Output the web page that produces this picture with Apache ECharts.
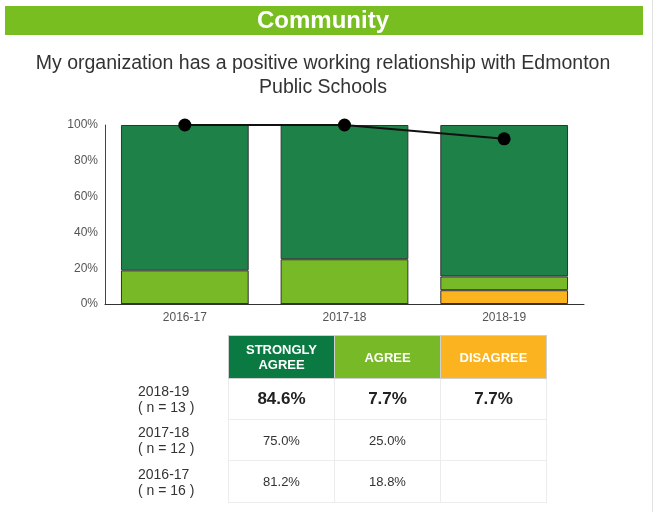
<!DOCTYPE html>
<html>
<head>
<meta charset="utf-8">
<script src="https://cdn.jsdelivr.net/npm/echarts@6/dist/echarts.min.js"></script>
<style>
  html, body { margin: 0; padding: 0; background: #fff; }
  #wrap { position: relative; width: 654px; height: 512px; overflow: hidden; font-family: "Liberation Sans", Arial, sans-serif; }
  #chart { position: absolute; left: 0; top: 0; width: 654px; height: 512px; }
  #rborder { position: absolute; left: 652px; top: 0; width: 1px; height: 512px; background: #e2e2e2; }
  #tbl { position: absolute; left: 130px; top: 335px; border-collapse: collapse; }
  #tbl td, #tbl th { padding: 0; text-align: center; color: #222; }
  #tbl th.h { width: 105px; height: 42px; color: #fff; font-size: 13px; font-weight: bold; line-height: 15px; border: 1px solid #cfcfcf; }
  #tbl td.lab { width: 90px; text-align: left; padding-left: 8px; font-size: 14px; line-height: 16px; color: #333; border: none; }
  #tbl td.v { border: 1px solid #ececec; font-size: 13px; color: #333; }
  #tbl tr.r1 td.v { font-size: 17px; font-weight: bold; color: #222; }
  #tbl th.blank { border: none; background: transparent; }
</style>
</head>
<body>
<div id="wrap">
  <div id="chart"></div>
  <div id="rborder"></div>
  <table id="tbl"></table>
</div>
<script>
// ---- data ----
var categories = ['2016-17', '2017-18', '2018-19'];
var stronglyAgree = [81.2, 75.0, 84.6];
var agree = [18.8, 25.0, 7.7];
var disagree = [0, 0, 7.7];
var positive = [100, 100, 92.3];
var yTicks = [0, 20, 40, 60, 80, 100];
var tableRows = ['2018-19', '2017-18', '2016-17'];
var tableN = [13, 12, 16];
var tableStrongly = ['84.6%', '75.0%', '81.2%'];
var tableAgree = ['7.7%', '25.0%', '18.8%'];
var tableDisagree = ['7.7%', '', ''];
var headers = ['STRONGLY<br>AGREE', 'AGREE', 'DISAGREE'];

var cDark = '#1E8248', cLight = '#78B928', cOrange = '#FBB41F';
var headerColors = ['#0A7A42', cLight, cOrange];

var chart = echarts.init(document.getElementById('chart'), null, { renderer: 'canvas' });
var barStyle = { borderColor: '#333', borderWidth: 1 };
chart.setOption({
  animation: false,
  graphic: [
    { type: 'rect', shape: { x: 5, y: 6, width: 638, height: 29 }, style: { fill: '#78BE20' } },
    { type: 'text', x: 323, y: 21, style: { text: 'Community', fill: '#fff', font: 'bold 24px "Liberation Sans", Arial', align: 'center', verticalAlign: 'middle' } },
    { type: 'text', x: 323, y: 76, style: { text: 'My organization has a positive working relationship with Edmonton\nPublic Schools', fill: '#333', font: '19.5px "Liberation Sans", Arial', align: 'center', verticalAlign: 'middle', lineHeight: 24 } }
  ],
  grid: { left: 105, right: 70, top: 125, bottom: 208 },
  xAxis: {
    type: 'category', data: categories,
    axisLine: { lineStyle: { color: '#333', width: 1 } },
    axisTick: { show: false },
    axisLabel: { color: '#555', fontSize: 12, margin: 8, fontFamily: 'Liberation Sans' }
  },
  yAxis: {
    type: 'value', min: 0, max: 100, interval: 20,
    axisLine: { show: true, lineStyle: { color: '#444' } },
    axisTick: { show: false },
    splitLine: { show: false },
    axisLabel: { color: '#555', fontSize: 12, margin: 7, fontFamily: 'Liberation Sans', formatter: function (v) { return yTicks.indexOf(v) >= 0 ? v + '%' : ''; } }
  },
  series: [
    { name: 'Disagree', type: 'bar', stack: 's', data: disagree, barWidth: '80%', itemStyle: Object.assign({ color: cOrange }, barStyle) },
    { name: 'Agree', type: 'bar', stack: 's', data: agree, itemStyle: Object.assign({ color: cLight }, barStyle) },
    { name: 'Strongly Agree', type: 'bar', stack: 's', data: stronglyAgree, itemStyle: Object.assign({ color: cDark }, barStyle) },
    { name: 'Positive', type: 'line', data: positive, symbol: 'circle', symbolSize: 13, z: 10,
      lineStyle: { color: '#111', width: 2 }, itemStyle: { color: '#000' } }
  ]
});

// ---- table ----
var tbl = document.getElementById('tbl');
var html = '<tr><th class="blank"></th>';
for (var i = 0; i < headers.length; i++) {
  html += '<th class="h" style="background:' + headerColors[i] + '">' + headers[i] + '</th>';
}
html += '</tr>';
for (var r = 0; r < tableRows.length; r++) {
  var h = r === 0 ? 41 : (r === 1 ? 41 : 42);
  html += '<tr class="r' + (r + 1) + '" style="height:' + h + 'px">';
  html += '<td class="lab">' + tableRows[r] + '<br>( n = ' + tableN[r] + ' )</td>';
  html += '<td class="v">' + tableStrongly[r] + '</td>';
  html += '<td class="v">' + tableAgree[r] + '</td>';
  html += '<td class="v">' + tableDisagree[r] + '</td>';
  html += '</tr>';
}
tbl.innerHTML = html;
</script>
</body>
</html>
